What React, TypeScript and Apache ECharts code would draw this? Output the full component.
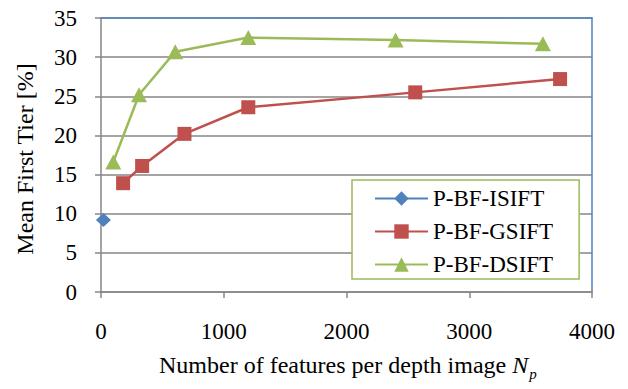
import React, { useEffect, useRef } from "react";
import * as echarts from "echarts";

const seriesNames = ["P-BF-ISIFT", "P-BF-GSIFT", "P-BF-DSIFT"];
const isiftX = [20];
const isiftY = [9.2];
const gsiftX = [180, 335, 680, 1200, 2560, 3740];
const gsiftY = [13.9, 16.1, 20.2, 23.6, 25.5, 27.2];
const dsiftX = [100, 310, 605, 1200, 2400, 3600];
const dsiftY = [16.6, 25.2, 30.7, 32.5, 32.2, 31.7];
const xTitle = "Number of features per depth image ";
const xTitleVar = "N";
const xTitleSub = "p";
const yTitle = "Mean First Tier [%]";

const colors = ["#4F81BD", "#C0504D", "#9BBB59"];
const FONT = "Times New Roman";

function pairs(xs: number[], ys: number[]) {
  return xs.map((x, i) => [x, ys[i]]);
}

export default function App() {
  const ref = useRef<HTMLDivElement>(null);
  useEffect(() => {
    if (!ref.current) return;
    const chart = echarts.init(ref.current, null, { renderer: "svg" });
    const gray = "#868686";
    chart.setOption({
      animation: false,
      grid: { left: 101, right: 36, top: 18, bottom: 97, show: false },
      xAxis: [
        {
          type: "value",
          min: 0,
          max: 4000,
          interval: 1000,
          axisLine: { show: true, onZero: false, lineStyle: { color: gray, width: 1.5 } },
          axisTick: { show: true, inside: false, length: 6, lineStyle: { color: gray, width: 1.5 } },
          axisLabel: {
            color: "#000",
            fontFamily: FONT,
            fontSize: 23,
            margin: 28,
            formatter: (v: number) => String(v),
          },
          splitLine: { show: false },
        },
        {
          type: "value",
          position: "top",
          min: 0,
          max: 4000,
          axisLine: { show: true, onZero: false, lineStyle: { color: colors[0], width: 1.5 } },
          axisTick: { show: false },
          axisLabel: { show: false },
          splitLine: { show: false },
        },
      ],
      yAxis: [
        {
          type: "value",
          min: 0,
          max: 35,
          interval: 5,
          axisLine: { show: true, onZero: false, lineStyle: { color: gray, width: 1.5 } },
          axisTick: { show: true, inside: false, length: 6, lineStyle: { color: gray, width: 1.5 } },
          axisLabel: { color: "#000", fontFamily: FONT, fontSize: 23, margin: 24 },
          splitLine: { show: true, lineStyle: { color: gray, width: 1.5 } },
        },
        {
          type: "value",
          position: "right",
          min: 0,
          max: 35,
          axisLine: { show: true, onZero: false, lineStyle: { color: colors[0], width: 1.5 } },
          axisTick: { show: false },
          axisLabel: { show: false },
          splitLine: { show: false },
        },
      ],
      legend: {
        orient: "vertical",
        left: 352,
        top: 180,
        backgroundColor: "#fff",
        borderColor: colors[2],
        borderWidth: 1.5,
        padding: [7, 26, 3, 22],
        itemGap: 10,
        itemWidth: 53,
        itemHeight: 18,
        textStyle: { color: "#000", fontFamily: FONT, fontSize: 23 },
        data: seriesNames,
      },
      series: [
        {
          name: seriesNames[0],
          type: "line",
          data: pairs(isiftX, isiftY),
          symbol: "diamond",
          symbolSize: [15, 14],
          itemStyle: { color: colors[0] },
          lineStyle: { color: colors[0], width: 2.5 },
        },
        {
          name: seriesNames[1],
          type: "line",
          data: pairs(gsiftX, gsiftY),
          symbol: "rect",
          symbolSize: 14,
          itemStyle: { color: colors[1] },
          lineStyle: { color: colors[1], width: 2.5 },
        },
        {
          name: seriesNames[2],
          type: "line",
          data: pairs(dsiftX, dsiftY),
          symbol: "triangle",
          symbolSize: [16, 15],
          itemStyle: { color: colors[2] },
          lineStyle: { color: colors[2], width: 2.5 },
        },
      ],
      graphic: [
        {
          type: "text",
          left: 159,
          top: 353,
          style: {
            text: `{a|${xTitle}}{n|${xTitleVar}}{s|${xTitleSub}}`,
            rich: {
              a: { fontFamily: FONT, fontSize: 24, lineHeight: 24, verticalAlign: "top", fill: "#000" },
              n: {
                fontFamily: FONT,
                fontSize: 24,
                lineHeight: 24,
                verticalAlign: "top",
                fontStyle: "italic",
                fill: "#000",
              },
              s: {
                fontFamily: FONT,
                fontSize: 15,
                lineHeight: 15,
                verticalAlign: "top",
                fontStyle: "italic",
                padding: [13, 0, 0, 1],
                fill: "#000",
              },
            },
          },
        },
        {
          type: "text",
          x: 25,
          y: 159,
          rotation: Math.PI / 2,
          style: {
            text: yTitle,
            fontFamily: FONT,
            fontSize: 24,
            fill: "#000",
            align: "center",
            verticalAlign: "middle",
          },
        },
      ],
    });
    return () => chart.dispose();
  }, []);
  return <div ref={ref} style={{ width: 628, height: 389, position: "absolute", left: 0, top: 0 }} />;
}
